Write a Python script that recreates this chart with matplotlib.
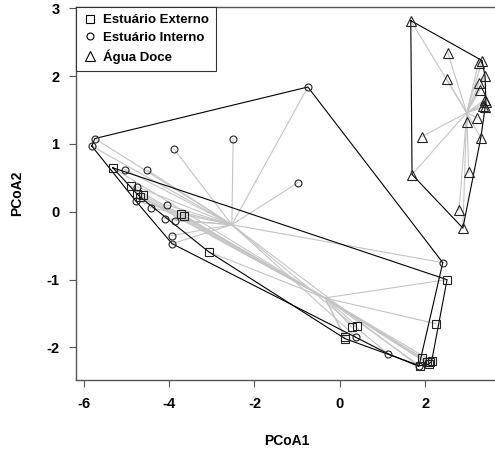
import numpy as np
import matplotlib
matplotlib.use("Agg")
import matplotlib.pyplot as plt
from matplotlib.lines import Line2D

plt.rcParams['font.family'] = ['Liberation Sans', 'DejaVu Sans']
plt.rcParams['font.weight'] = 'bold'
plt.rcParams['axes.unicode_minus'] = False

groups = ["Estuário Externo", "Estuário Interno", "Água Doce"]
markers = ["s", "o", "^"]

ext_x = [-5.32, -4.90, -4.76, -4.68, -4.62, -3.72, -3.65, -3.07, 0.28, 0.39,
         0.12, 0.12, 2.51, 2.25, 1.92, 1.87, 2.03, 2.10, 2.15, 2.08]
ext_y = [0.65, 0.38, 0.27, 0.22, 0.25, -0.03, -0.06, -0.59, -1.70, -1.68,
         -1.84, -1.87, -1.00, -1.65, -2.15, -2.27, -2.22, -2.22, -2.20, -2.25]
ext_c = (-0.35, -1.27)

int_x = [-5.74, -5.81, -5.03, -4.52, -3.89, -2.50, -0.75, -0.98, -4.78, -4.43,
         -4.05, -4.10, -3.86, -3.93, -3.93, 2.41, 0.37, 1.12, 1.85, -4.75]
int_y = [1.08, 0.97, 0.62, 0.62, 0.93, 1.08, 1.84, 0.43, 0.16, 0.06,
         0.10, -0.10, -0.13, -0.35, -0.47, -0.75, -1.84, -2.09, -2.28, 0.37]
int_c = (-2.53, -0.19)

doce_x = [1.66, 2.53, 2.50, 3.25, 3.33, 3.40, 3.26, 3.28, 3.39, 3.42,
          3.35, 3.40, 3.21, 2.97, 1.92, 3.30, 1.69, 3.02, 2.79, 2.88]
doce_y = [2.82, 2.34, 1.96, 2.20, 2.23, 2.00, 1.90, 1.80, 1.65, 1.62,
          1.56, 1.55, 1.39, 1.33, 1.11, 1.09, 0.55, 0.58, 0.02, -0.24]
doce_c = (2.97, 1.46)

xticks = [-6, -4, -2, 0, 2]
yticks = [-2, -1, 0, 1, 2, 3]


def hull(pts):
    pts = sorted(set(map(tuple, pts)))
    def cross(o, a, b):
        return (a[0]-o[0])*(b[1]-o[1]) - (a[1]-o[1])*(b[0]-o[0])
    lower, upper = [], []
    for p in pts:
        while len(lower) >= 2 and cross(lower[-2], lower[-1], p) <= 0:
            lower.pop()
        lower.append(p)
    for p in reversed(pts):
        while len(upper) >= 2 and cross(upper[-2], upper[-1], p) <= 0:
            upper.pop()
        upper.append(p)
    h = lower[:-1] + upper[:-1]
    h.append(h[0])
    return np.array(h)


fig = plt.figure(figsize=(4.95, 4.54), dpi=100)
W, H = 495, 454
ax = fig.add_axes([76/W, (H-380)/H, (497-76)/W, (380-7)/H])

data = [(ext_x, ext_y, ext_c), (int_x, int_y, int_c), (doce_x, doce_y, doce_c)]

# spider segments
for xs, ys, c in data:
    for x, y in zip(xs, ys):
        ax.plot([x, c[0]], [y, c[1]], color="#c4c4c4", lw=0.8, zorder=1)
# hulls
for xs, ys, c in data:
    h = hull(np.column_stack([xs, ys]))
    ax.plot(h[:, 0], h[:, 1], color="black", lw=0.8, zorder=2)
# points
sizes = [6, 5, 7.5]
for (xs, ys, c), m, s in zip(data, markers, sizes):
    ax.plot(xs, ys, ls="none", marker=m, ms=s, mfc="none", mec="#222222",
            mew=0.8, zorder=3)

ax.set_xlim(-6.18, -6.18 + 421/42.7)
ax.set_ylim(-2.48, 3.02)
ax.set_xticks(xticks)
ax.set_yticks(yticks)
ax.tick_params(direction="out", length=5, width=0.8, labelsize=10.5,
               color="#555555", pad=7)
for lab in ax.get_xticklabels() + ax.get_yticklabels():
    lab.set_fontweight("bold")
for sp in ax.spines.values():
    sp.set_color("#555555")
    sp.set_linewidth(1.0)
ax.spines["right"].set_visible(False)

ax.set_xlabel("PCoA1", fontsize=10, fontweight="bold", labelpad=17)
ax.set_ylabel("PCoA2", fontsize=10, fontweight="bold", labelpad=16)

handles = [Line2D([], [], ls="none", marker=m, ms=s, mfc="none", mec="black", mew=0.8)
           for m, s in zip(markers, [6, 5, 7])]
leg = ax.legend(handles, groups, loc="upper left", borderaxespad=0, fancybox=False,
                edgecolor="#333333", framealpha=1, handlelength=1.0,
                handletextpad=0.5, labelspacing=0.4, borderpad=0.55,
                prop={"weight": "bold", "size": 9.5})
leg.get_frame().set_linewidth(0.8)

fig.savefig("out.png", dpi=100)
